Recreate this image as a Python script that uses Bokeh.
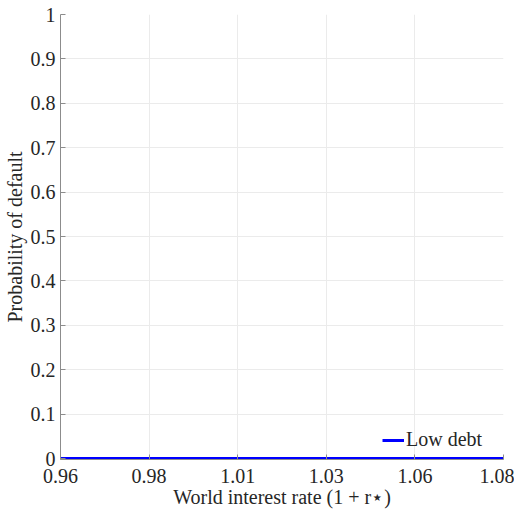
from bokeh.plotting import figure
from bokeh.models import FixedTicker, Range1d, Legend, LegendItem
from bokeh.embed import file_html
from bokeh.resources import INLINE

x_ticks = [0.96, 0.984, 1.008, 1.032, 1.056, 1.08]
x_tick_labels = ["0.96", "0.98", "1.01", "1.03", "1.06", "1.08"]
y_ticks = [0, 0.1, 0.2, 0.3, 0.4, 0.5, 0.6, 0.7, 0.8, 0.9, 1]
y_tick_labels = ["0", "0.1", "0.2", "0.3", "0.4", "0.5", "0.6", "0.7", "0.8", "0.9", "1"]

rate = [0.96, 0.97, 0.98, 0.99, 1.00, 1.01, 1.02, 1.03, 1.04, 1.05, 1.06, 1.07, 1.08]
prob_low_debt = [0, 0, 0, 0, 0, 0, 0, 0, 0, 0, 0, 0, 0]

FONT = "Liberation Serif"

p = figure(output_backend="svg", toolbar_location=None,
           x_range=Range1d(0.96, 1.08), y_range=Range1d(-0.002, 1))
p.frame_width = 443
p.frame_height = 445
p.min_border_left = 54
p.min_border_right = 11
p.min_border_top = 14
p.min_border_bottom = 40
p.outline_line_color = None
p.background_fill_color = "white"

r = p.line(rate, prob_low_debt, line_color="#0000ff", line_width=3)

p.xaxis.ticker = FixedTicker(ticks=x_ticks)
p.xaxis.major_label_overrides = {t: l for t, l in zip(x_ticks, x_tick_labels)}
p.yaxis.ticker = FixedTicker(ticks=y_ticks)
p.yaxis.major_label_overrides = {t: l for t, l in zip(y_ticks, y_tick_labels)}

for ax in (p.xaxis, p.yaxis):
    ax.axis_line_color = "#8c8c8c"
    ax.major_tick_line_color = "#8c8c8c"
    ax.major_tick_in = 5
    ax.major_tick_out = 0
    ax.minor_tick_line_color = None
    ax.major_label_text_font = FONT
    ax.major_label_text_font_size = "20px"
    ax.major_label_text_color = "#262626"
    ax.axis_label_text_font = FONT
    ax.axis_label_text_font_size = "20px"
    ax.axis_label_text_font_style = "normal"
    ax.axis_label_text_color = "#262626"

p.xaxis.axis_label = "World interest rate (1 + r⋆)"
p.yaxis.axis_label = "Probability of default"
p.xaxis.major_label_standoff = 9
p.yaxis.major_label_standoff = 5
p.xaxis.axis_label_standoff = 0
p.yaxis.axis_label_standoff = 2

p.xgrid.ticker = FixedTicker(ticks=x_ticks)
p.ygrid.ticker = FixedTicker(ticks=y_ticks)
p.grid.grid_line_color = "#ebebeb"

legend = Legend(items=[LegendItem(label="Low debt", renderers=[r])], location=(322, 8))
legend.border_line_color = None
legend.background_fill_alpha = 0
legend.label_text_font = FONT
legend.label_text_font_size = "20px"
legend.label_text_color = "#262626"
legend.glyph_width = 22
legend.label_standoff = 2
legend.margin = 0
legend.padding = 0
p.add_layout(legend)

open("out.html", "w").write(file_html(p, INLINE))
